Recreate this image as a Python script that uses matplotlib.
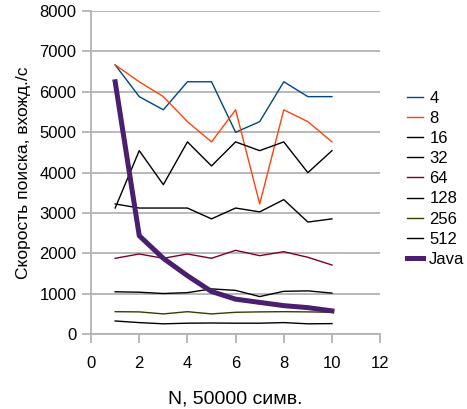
import matplotlib.pyplot as plt

plt.rcParams['font.family'] = ['Liberation Sans', 'DejaVu Sans']

n = [1, 2, 3, 4, 5, 6, 7, 8, 9, 10]
s4 = [6667, 5882, 5556, 6250, 6250, 5000, 5263, 6250, 5882, 5882]
s8 = [6667, 6250, 5882, 5263, 4762, 5556, 3226, 5556, 5263, 4762]
s16 = [3125, 4545, 3704, 4762, 4167, 4762, 4545, 4762, 4000, 4545]
s32 = [3226, 3125, 3125, 3125, 2857, 3125, 3030, 3333, 2778, 2857]
s64 = [1881, 1988, 1881, 1988, 1881, 2079, 1946, 2045, 1906, 1715]
s128 = [1053, 1042, 1010, 1031, 1124, 1087, 934, 1064, 1075, 1020]
s256 = [560, 555, 505, 560, 505, 545, 555, 560, 555, 545]
s512 = [330, 290, 260, 275, 280, 275, 275, 290, 260, 265]
java = [6250, 2440, 1880, 1450, 1060, 870, 790, 710, 660, 580]

labels = ['4', '8', '16', '32', '64', '128', '256', '512', 'Java']
colors = ['#004586', '#ff420e', '#000000', '#000000', '#7e0021',
          '#000000', '#314004', '#000000', '#4b1f6f']

fig = plt.figure(figsize=(4.67, 4.09), dpi=100)
ax = fig.add_axes([0.195, 0.1826, 0.619, 0.7904])

series = [s4, s8, s16, s32, s64, s128, s256, s512, java]
for vals, lab, c in zip(series, labels, colors):
    lw = 3.6 if lab == 'Java' else 1.0
    ax.plot(n, vals, color=c, lw=lw, label=lab, zorder=3)

ax.set_xlim(0, 12)
ax.set_ylim(0, 8000)
ax.set_xticks(range(0, 13, 2))
ax.set_yticks(range(0, 8001, 1000))
ax.grid(axis='y', color='#b3b3b3', lw=1.3)
ax.set_axisbelow(True)
for side in ['top', 'right']:
    ax.spines[side].set_visible(False)
for side in ['left', 'bottom']:
    ax.spines[side].set_color('#b3b3b3')
    ax.spines[side].set_linewidth(1.3)
ax.tick_params(colors='#b3b3b3', labelcolor='black', width=1.3, length=6.5, labelsize=12)
ax.tick_params(axis='x', pad=9)
ax.tick_params(axis='y', pad=4)

ax.set_xlabel('N, 50000 симв.', fontsize=14, labelpad=14)
ax.set_ylabel('Скорость поиска, вхожд./с', fontsize=12.5, labelpad=6)

ax.legend(loc='center left', bbox_to_anchor=(0.84, 0.563), bbox_transform=fig.transFigure,
          frameon=False, fontsize=12, handlelength=0.96, handletextpad=0.36,
          labelspacing=0.31)

fig.savefig('out.png', dpi=100)
